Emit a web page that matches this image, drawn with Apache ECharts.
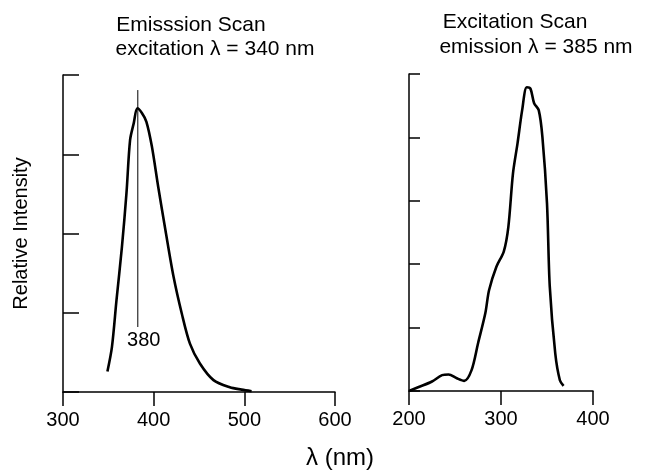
<!DOCTYPE html>
<html><head><meta charset="utf-8">
<script src="https://cdn.jsdelivr.net/npm/echarts@6/dist/echarts.min.js"></script>
<style>html,body{margin:0;padding:0;background:#fff}#c{width:649px;height:472px}</style>
</head><body><div id="c"></div>
<script>
// Emission scan (excitation 340 nm): [wavelength nm, relative intensity]
const emissionWavelengths = [349, 354, 359, 365, 370, 374, 378, 382, 387, 392, 398, 405, 413, 422, 431, 440, 451, 466, 484, 497, 508];
const emissionIntensity  = [0.26, 0.57, 1.16, 1.83, 2.51, 3.18, 3.39, 3.58, 3.52, 3.41, 3.10, 2.59, 2.04, 1.45, 0.99, 0.61, 0.36, 0.15, 0.06, 0.03, 0.01];
// Excitation scan (emission 385 nm)
const excitationWavelengths = [200, 212, 225, 236, 243, 252, 260, 268, 275, 283, 287, 295, 303, 308, 313, 318, 323, 328, 332, 336, 341, 345, 350, 353, 359, 364, 368];
const excitationIntensity  = [0.0, 0.07, 0.15, 0.25, 0.26, 0.20, 0.16, 0.33, 0.75, 1.23, 1.59, 1.96, 2.20, 2.59, 3.43, 3.91, 4.43, 4.79, 4.77, 4.54, 4.43, 4.01, 2.96, 1.65, 0.59, 0.17, 0.08];
const peakWavelength = 382.5;
const peakLine = [3.81, 0.82];
const peakLabel = '380';
const leftXTicks = [300, 400, 500, 600];
const rightXTicks = [200, 300, 400];

const FONT = '"Liberation Sans", Arial, sans-serif';
const chart = echarts.init(document.getElementById('c'), null, {renderer: 'canvas'});
const zip = (a, b) => a.map((v, i) => [v, b[i]]);
function xAx(idx, min, max) {
  return {gridIndex: idx, type: 'value', min, max, interval: 100,
    axisLine: {show: true, onZero: false, lineStyle: {color: '#000', width: 1.5}},
    axisTick: {show: true, inside: false, length: 14, lineStyle: {color: '#000', width: 1.5}},
    axisLabel: {color: '#000', fontSize: 20, fontFamily: FONT, margin: 18},
    splitLine: {show: false}};
}
function yAx(idx, max, tickLen, name) {
  return {gridIndex: idx, type: 'value', min: 0, max, interval: 1,
    axisLine: {show: true, lineStyle: {color: '#000', width: 1.5}},
    axisTick: {show: true, inside: true, length: tickLen, lineStyle: {color: '#000', width: 1.5}},
    axisLabel: {show: false}, splitLine: {show: false},
    name: name || '', nameLocation: 'middle', nameRotate: 90, nameGap: 32,
    nameTextStyle: {color: '#000', fontSize: 20, fontFamily: FONT}};
}
const txt = (x, y, text, size) => ({type: 'text', x, y, silent: true,
  style: {text, font: size + 'px ' + FONT, fill: '#000', align: 'center', verticalAlign: 'middle'}});
chart.setOption({
  backgroundColor: '#fff',
  animation: false,
  grid: [
    {left: 63, top: 75, width: 272, height: 317},
    {left: 409, top: 74, width: 184, height: 317}
  ],
  xAxis: [xAx(0, 300, 600), xAx(1, 200, 400)],
  yAxis: [yAx(0, 4, 16, 'Relative Intensity'), yAx(1, 5, 11)],
  graphic: [
    txt(191, 25, 'Emisssion Scan', 21),
    txt(215, 49, 'excitation λ = 340 nm', 21),
    txt(515, 22, 'Excitation Scan', 21),
    txt(536, 47, 'emission λ = 385 nm', 21),
    txt(340, 458, 'λ (nm)', 24)
  ],
  series: [
    {type: 'line', xAxisIndex: 0, yAxisIndex: 0, data: zip(emissionWavelengths, emissionIntensity),
      smooth: 0.3, showSymbol: false, lineStyle: {color: '#000', width: 2.6}},
    {type: 'line', xAxisIndex: 0, yAxisIndex: 0,
      data: [[peakWavelength, peakLine[0]], {value: [peakWavelength, peakLine[1]], label: {show: true, position: 'bottom', distance: 3, offset: [6, 0], formatter: peakLabel, color: '#000', fontSize: 20, fontFamily: FONT}}],
      showSymbol: true, symbol: 'circle', symbolSize: 0.01, itemStyle: {color: '#000'}, lineStyle: {color: '#000', width: 1}},
    {type: 'line', xAxisIndex: 1, yAxisIndex: 1, data: zip(excitationWavelengths, excitationIntensity),
      smooth: 0.3, showSymbol: false, lineStyle: {color: '#000', width: 2.6}}
  ]
});
</script></body></html>
